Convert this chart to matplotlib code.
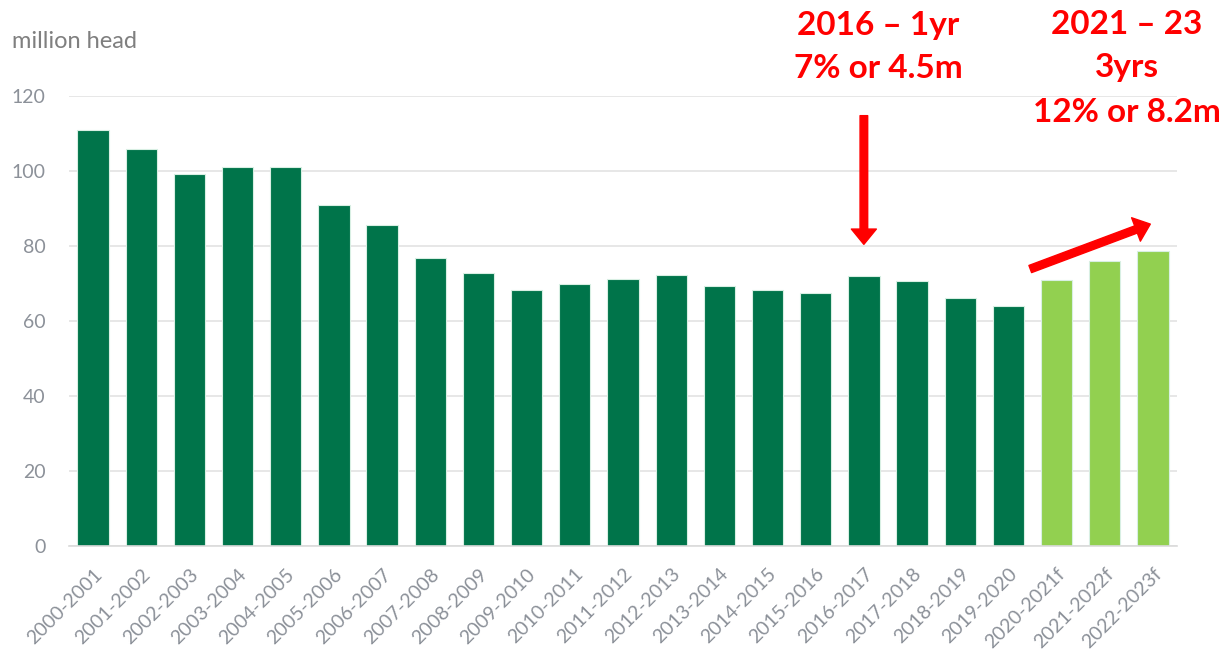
import matplotlib
matplotlib.use("Agg")
import matplotlib.pyplot as plt
from matplotlib.patches import FancyArrowPatch

plt.rcParams['font.family'] = ['Lato', 'DejaVu Sans']

# data (million head)
seasons = ["2000-2001", "2001-2002", "2002-2003", "2003-2004", "2004-2005",
           "2005-2006", "2006-2007", "2007-2008", "2008-2009", "2009-2010",
           "2010-2011", "2011-2012", "2012-2013", "2013-2014", "2014-2015",
           "2015-2016", "2016-2017", "2017-2018", "2018-2019", "2019-2020",
           "2020-2021f", "2021-2022f", "2022-2023f"]
head = [110.9, 106.0, 99.2, 101.1, 101.1, 90.9, 85.6, 76.9, 72.7, 68.2,
        70.0, 71.3, 72.4, 69.4, 68.2, 67.6, 72.1, 70.6, 66.1, 63.9,
        70.9, 76.0, 78.6]
forecast = [s.endswith("f") for s in seasons]
yticks = [0, 20, 40, 60, 80, 100, 120]

dark = "#00744A"
light = "#92D050"
grey = "#8C9199"
red = "#FF0000"

fig = plt.figure(figsize=(12.26, 6.5), dpi=100)
ax = fig.add_axes([69 / 1226, 1 - 546 / 650, (1177 - 69) / 1226, (546 - 96) / 650])

x = list(range(len(seasons)))
cols = [light if f else dark for f in forecast]
ax.bar(x, head, width=0.65, color=cols, edgecolor="#D8EFE3", linewidth=0.8, zorder=2)

ax.set_xlim(-0.5, len(seasons) - 0.5)
ax.set_ylim(0, 120)
ax.set_yticks(yticks)
ax.yaxis.grid(True, color="#E3E3E3", linewidth=1.2, zorder=0)
ax.set_axisbelow(True)
for s in ["top", "right", "left"]:
    ax.spines[s].set_visible(False)
ax.spines["bottom"].set_color("#DADADA")
ax.spines["bottom"].set_linewidth(1.2)
ax.tick_params(axis="both", length=0, labelsize=14, labelcolor=grey)
ax.tick_params(axis="y", pad=17)
ax.set_xticks(x)
ax.set_xticklabels(seasons, rotation=45, ha="right", rotation_mode="anchor")
ax.tick_params(axis="x", pad=14)

fig.text(12 / 1226, 1 - 42 / 650, "million head", fontsize=17, color="#7F7F7F", va="center")

# annotations
big = 24
fig.text(878 / 1226, 1 - 25 / 650, "2016 \u2013 1yr", fontsize=big, fontweight="bold",
         color=red, ha="center", va="center")
fig.text(878 / 1226, 1 - 68 / 650, "7% or 4.5m", fontsize=big, fontweight="bold",
         color=red, ha="center", va="center")
fig.text(1127 / 1226, 1 - 25 / 650, "2021 \u2013 23", fontsize=big, fontweight="bold",
         color=red, ha="center", va="center")
fig.text(1127 / 1226, 1 - 68 / 650, "3yrs", fontsize=big, fontweight="bold",
         color=red, ha="center", va="center")
fig.text(1127 / 1226, 1 - 112 / 650, "12% or 8.2m", fontsize=big, fontweight="bold",
         color=red, ha="center", va="center")

style = "simple,head_width=18,head_length=11,tail_width=5.5"
a1 = FancyArrowPatch((16, 115.5), (16, 79.7), arrowstyle=style, mutation_scale=1,
                     color=red, clip_on=False, zorder=5)
a2 = FancyArrowPatch((19.4, 73.6), (22.0, 86.1), arrowstyle=style, mutation_scale=1,
                     color=red, clip_on=False, zorder=5)
ax.add_patch(a1)
ax.add_patch(a2)

fig.savefig("out.png", dpi=100)
